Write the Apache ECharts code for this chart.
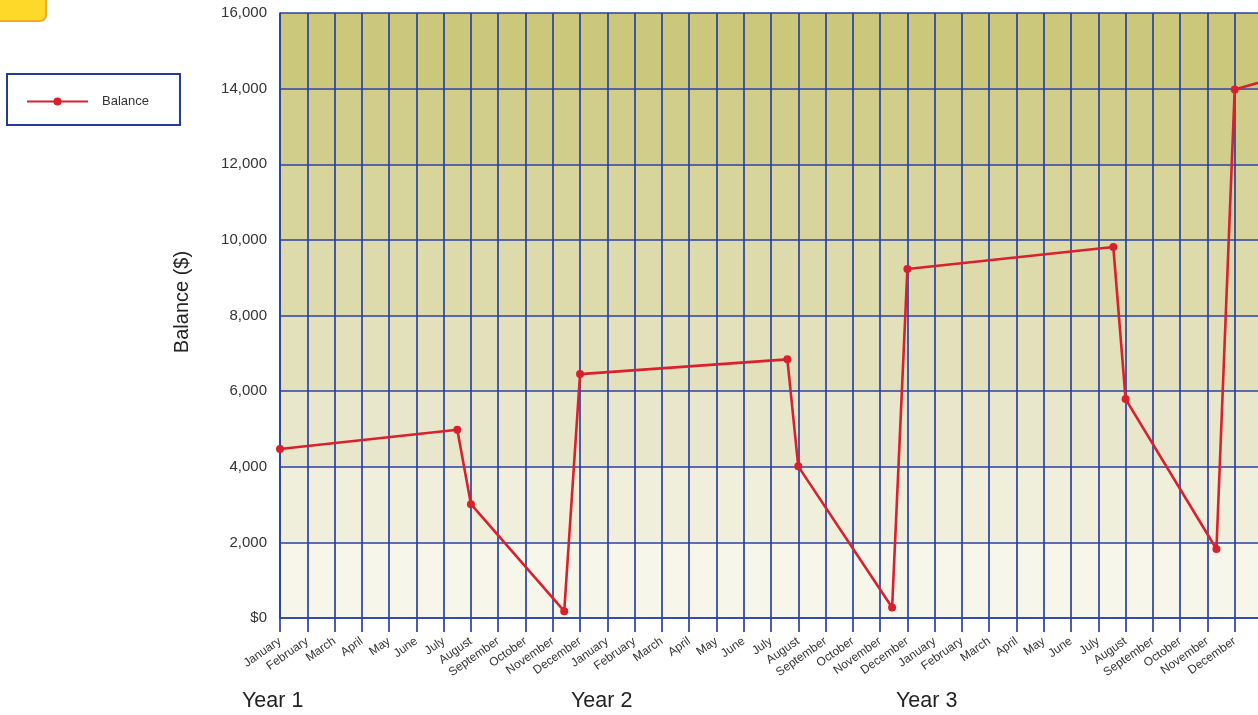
<!DOCTYPE html>
<html>
<head>
<meta charset="utf-8">
<script src="https://cdn.jsdelivr.net/npm/echarts@6/dist/echarts.min.js"></script>
<style>
html,body{margin:0;padding:0;background:#fff;}
#chart{width:1258px;height:715px;}
</style>
</head>
<body>
<div id="chart"></div>
<script>
// ---- data ----
const monthNames = ['January','February','March','April','May','June','July','August','September','October','November','December'];
const yearLabels = ['Year 1','Year 2','Year 3'];
// position along the time axis, in months from January of Year 1
const monthPos = [0, 6.5, 7, 10.42, 11, 18.6, 19, 22.44, 23, 30.55, 31, 34.33, 35, 37];
const balance  = [4470, 4980, 3010, 180, 6450, 6840, 4010, 280, 9230, 9810, 5790, 1825, 13980, 14380];
const yTicks = [0, 2000, 4000, 6000, 8000, 10000, 12000, 14000, 16000];

const bandColors = ['#f7f6eb','#f0efdb','#e9e7cb','#e3e1bb','#dddbab','#d7d59b','#d1ce8b','#cbc87b'];
const gridBlue = '#2a41a2';
const font = '"Liberation Sans", Arial, sans-serif';

const chart = echarts.init(document.getElementById('chart'), null, {renderer:'canvas'});
chart.setOption({
  animation: false,
  backgroundColor: '#ffffff',
  grid: {left: 280, right: -4, top: 13, bottom: 97, containLabel: false, outerBoundsMode: 'none'},
  legend: {
    left: 7, top: 74,
    orient: 'vertical',
    borderColor: '#223c94', borderWidth: 2,
    padding: [21, 31, 17, 19],
    itemWidth: 61, itemHeight: 10,
    textStyle: {fontFamily: font, fontSize: 13, color: '#333', padding: [0,0,0,9]},
    data: ['Balance']
  },
  xAxis: {
    type: 'value', min: 0, max: 36, interval: 1,
    axisLine: {show: true, lineStyle: {color: gridBlue, width: 1.7}},
    axisTick: {show: true, length: 14, lineStyle: {color: gridBlue, width: 1.7}},
    splitLine: {show: true, lineStyle: {color: gridBlue, width: 1.7}},
    axisLabel: {
      rotate: 35, margin: 22, fontFamily: font, fontSize: 12, color: '#333',
      showMaxLabel: false, hideOverlap: false,
      formatter: v => (v < 36 ? monthNames[v % 12] : '')
    }
  },
  yAxis: {
    type: 'value', min: yTicks[0], max: yTicks[yTicks.length-1], interval: 2000,
    axisLine: {show: true, lineStyle: {color: gridBlue, width: 1.7}},
    axisTick: {show: false},
    splitLine: {show: true, lineStyle: {color: gridBlue, width: 1.7}},
    splitArea: {show: true, areaStyle: {color: bandColors}},
    axisLabel: {
      margin: 13, fontFamily: font, fontSize: 15, color: '#333',
      formatter: v => (v === 0 ? '$0' : v.toLocaleString('en-US'))
    }
  },
  series: [{
    name: 'Balance', type: 'line',
    data: monthPos.map((m, i) => [m, balance[i]]),
    symbol: 'circle', symbolSize: 8,
    clip: true,
    lineStyle: {color: '#d8202e', width: 2.6},
    itemStyle: {color: '#d8202e'}
  }],
  graphic: [
    {type: 'rect', left: -10, top: -10, shape: {width: 55, height: 30, r: 6},
     style: {fill: '#ffd92a', stroke: '#f5a91e', lineWidth: 2}},
    {type: 'text', x: 182, y: 302, rotation: Math.PI / 2,
     style: {text: 'Balance ($)', font: '20px ' + font, fill: '#222', align: 'center', verticalAlign: 'middle'}},
    ...yearLabels.map((t, i) => ({
      type: 'text', left: [242, 571, 896][i], top: 690,
      style: {text: t, font: '21.5px ' + font, fill: '#222'}
    }))
  ]
});
</script>
</body>
</html>
